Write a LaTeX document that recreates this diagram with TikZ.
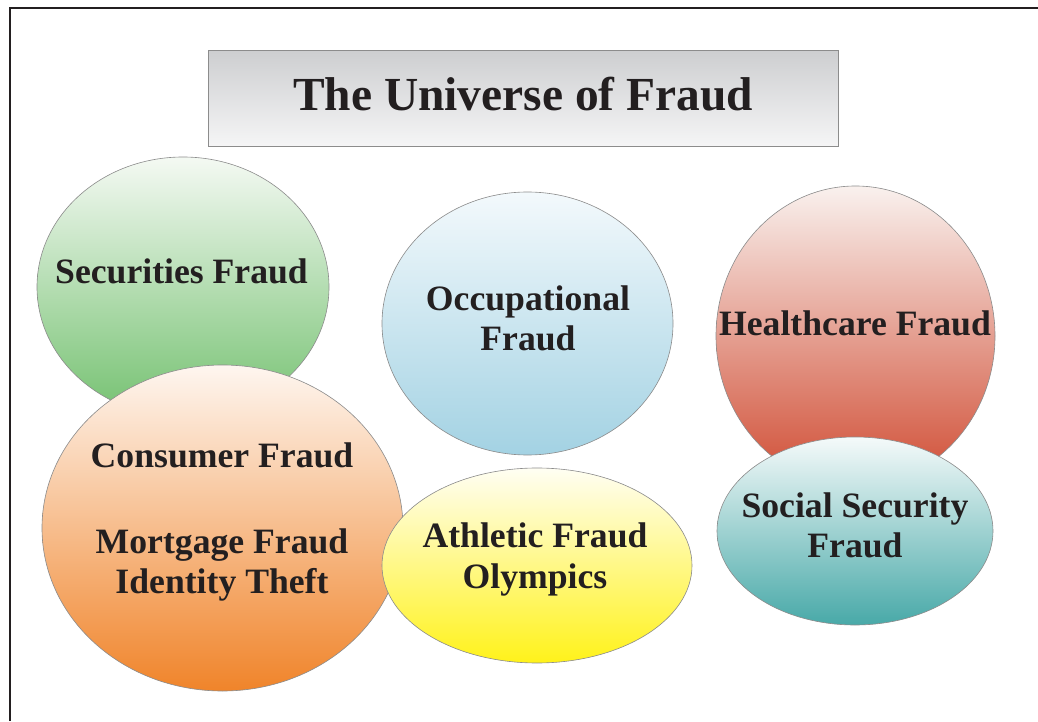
\documentclass[tikz,border=0pt]{standalone}
\usepackage{fontspec}
\setmainfont{Liberation Serif}
\usepackage{tikz}
\definecolor{ink}{HTML}{231F20}
\definecolor{edge}{HTML}{8C8C8C}
\definecolor{grayTop}{HTML}{CDCED0}
\definecolor{grayBot}{HTML}{F5F5F6}
\definecolor{greenTop}{HTML}{F4F9F3}
\definecolor{greenBot}{HTML}{74C170}
\definecolor{orangeTop}{HTML}{FEF6F0}
\definecolor{orangeBot}{HTML}{F0842A}
\definecolor{blueTop}{HTML}{F3F9FC}
\definecolor{blueBot}{HTML}{A3D2E3}
\definecolor{yellowTop}{HTML}{FFFEF3}
\definecolor{yellowBot}{HTML}{FFF21A}
\definecolor{redTop}{HTML}{F9F1EE}
\definecolor{redBot}{HTML}{D04C33}
\definecolor{tealTop}{HTML}{F5FAFA}
\definecolor{tealBot}{HTML}{48A9A8}
\tikzstyle{blob}=[draw = edge, line width = .35pt]
\tikzstyle{txt}=[text = ink, font = \fontsize{20.3}{22.8}\selectfont\bfseries, align = center, inner sep = 0pt]
\tikzstyle{banner}=[draw = edge, line width = .5pt, top color = grayTop, bottom color = grayBot, minimum width = 12.6cm, minimum height = 1.92cm, text = ink, font = \fontsize{27}{30}\selectfont\bfseries, text depth = .18cm]

\begin{document}
\begin{tikzpicture}[x = .02cm, y = .02cm]
  \useasboundingbox (0,0) rectangle (1038,721);
  \draw[line width = .055cm, draw = ink] (10,0) -- (10,713) -- (1038,713);
  \node[banner] (title) at (523,623) {The Universe of Fraud};
  % the bubbles, back to front
  \draw[blob, top color = greenTop, middle color = greenBot!28!greenTop, bottom color = greenBot] (183,434) ellipse [x radius = 146, y radius = 130];
  \draw[blob, top color = orangeTop, middle color = orangeBot!32!orangeTop, bottom color = orangeBot] (222.5,193) ellipse [x radius = 180.5, y radius = 163];
  \draw[blob, top color = blueTop, middle color = blueBot!35!blueTop, bottom color = blueBot] (527.5,397.5) ellipse [x radius = 145.5, y radius = 131.5];
  \draw[blob, top color = yellowTop, middle color = yellowBot!28!yellowTop, bottom color = yellowBot] (537,155.5) ellipse [x radius = 155, y radius = 97.5];
  \draw[blob, top color = redTop, middle color = redBot!35!redTop, bottom color = redBot] (855.5,385) ellipse [x radius = 139.5, y radius = 150];
  \draw[blob, top color = tealTop, middle color = tealBot!32!tealTop, bottom color = tealBot] (855,190) ellipse [x radius = 138, y radius = 94];
  % labels
  \node[txt] (sec) at (181.5,450) {Securities Fraud};
  \node[txt] (occ) at (528,403) {Occupational\\Fraud};
  \node[txt] (hea) at (855,398) {Healthcare Fraud};
  \node[txt] (con) at (222,199) {Consumer Fraud\\[.92cm]Mortgage Fraud\\Identity Theft};
  \node[txt] (ath) at (535,161.5) {Athletic Fraud\\Olympics};
  \node[txt] (soc) at (855,196) {Social Security\\Fraud};
\end{tikzpicture}
\end{document}
